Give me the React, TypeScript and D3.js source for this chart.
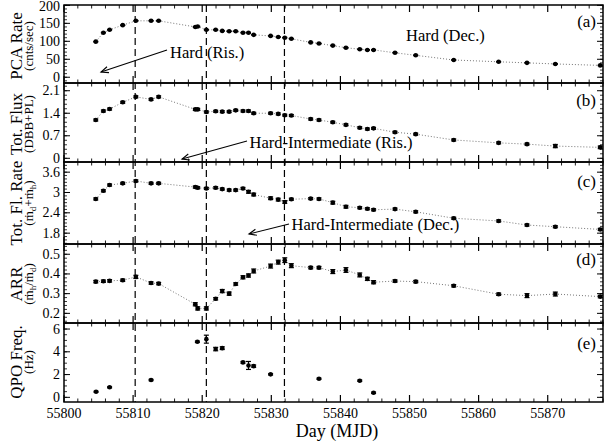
import React from "react";
import * as d3 from "d3";

const days = [55804.6, 55805.7, 55806.6, 55808.5, 55810.4, 55812.6, 55813.7, 55819.0, 55819.35, 55820.6, 55821.95, 55822.9, 55823.9, 55824.85, 55825.9, 55826.7, 55827.45, 55829.9, 55831.0, 55831.95, 55832.9, 55835.7, 55836.9, 55838.9, 55840.8, 55842.8, 55843.9, 55844.8, 55847.9, 55850.9, 55856.4, 55862.9, 55867.0, 55871.1, 55877.6];

const pcaRate = [99, 124, 132, 145, 157, 157, 157, 140, 141, 132, 132, 129, 128, 128, 124, 124, 118, 115, 112, 110, 107, 97, 94, 88, 82, 78, 76, 76, 68, 61, 48, 43, 40, 37, 33];
const pcaErr = [1, 1, 1, 1, 1, 1, 1, 1, 1, 1, 1, 1, 1, 1, 1, 1, 1, 1, 1, 1, 1, 1, 1, 1, 1, 1, 1, 1, 1, 1, 1, 1, 1, 1, 1];

const totFlux = [1.19, 1.47, 1.53, 1.74, 1.91, 1.83, 1.91, 1.52, 1.52, 1.44, 1.46, 1.45, 1.45, 1.49, 1.47, 1.47, 1.40, 1.40, 1.38, 1.34, 1.33, 1.22, 1.19, 1.12, 1.04, 0.95, 0.91, 0.93, 0.81, 0.75, 0.57, 0.48, 0.44, 0.38, 0.34];
const fluxErr = [0.03, 0.03, 0.03, 0.03, 0.03, 0.03, 0.03, 0.03, 0.03, 0.03, 0.03, 0.03, 0.03, 0.03, 0.03, 0.03, 0.03, 0.03, 0.03, 0.03, 0.03, 0.03, 0.03, 0.03, 0.03, 0.03, 0.03, 0.03, 0.03, 0.03, 0.03, 0.03, 0.03, 0.05, 0.04];

const totRate = [2.81, 3.05, 3.22, 3.27, 3.34, 3.27, 3.27, 3.16, 3.14, 3.12, 3.14, 3.10, 3.07, 3.07, 3.12, 3.02, 2.94, 2.83, 2.79, 2.72, 2.80, 2.82, 2.81, 2.70, 2.58, 2.55, 2.52, 2.49, 2.51, 2.43, 2.24, 2.16, 2.04, 1.99, 1.91];
const rateErr = [0.03, 0.03, 0.03, 0.03, 0.03, 0.03, 0.03, 0.03, 0.03, 0.03, 0.03, 0.03, 0.03, 0.03, 0.03, 0.04, 0.04, 0.04, 0.04, 0.04, 0.03, 0.03, 0.03, 0.04, 0.04, 0.03, 0.03, 0.03, 0.03, 0.03, 0.03, 0.03, 0.03, 0.03, 0.03];

const arr = [0.361, 0.363, 0.365, 0.368, 0.385, 0.354, 0.351, 0.246, 0.225, 0.225, 0.274, 0.313, 0.300, 0.349, 0.383, 0.392, 0.415, 0.440, 0.460, 0.470, 0.442, 0.432, 0.432, 0.412, 0.420, 0.395, 0.375, 0.358, 0.364, 0.361, 0.340, 0.297, 0.290, 0.298, 0.285];
const arrErr = [0.006, 0.006, 0.006, 0.006, 0.008, 0.006, 0.006, 0.008, 0.008, 0.008, 0.006, 0.008, 0.008, 0.006, 0.008, 0.008, 0.01, 0.01, 0.01, 0.012, 0.01, 0.006, 0.006, 0.01, 0.012, 0.01, 0.008, 0.008, 0.006, 0.006, 0.006, 0.006, 0.01, 0.01, 0.006];

const qpoDays = [55804.64, 55806.6, 55812.6, 55819.3, 55820.6, 55821.95, 55822.9, 55825.9, 55826.7, 55827.45, 55829.9, 55836.9, 55842.8, 55844.8];
const qpoFreq = [0.49, 0.88, 1.52, 4.88, 5.11, 4.24, 4.32, 3.07, 2.8, 2.74, 2.02, 1.63, 1.46, 0.40];
const qpoErr = [0.05, 0.05, 0.06, 0.06, 0.35, 0.15, 0.12, 0.08, 0.35, 0.1, 0.06, 0.06, 0.06, 0.06];

const transitions = [55810.3, 55820.6, 55831.9];
const xTicks = [55800, 55810, 55820, 55830, 55840, 55850, 55860, 55870];

const FONT = "'Liberation Serif', 'Times New Roman', 'DejaVu Serif', serif";

type PanelDef = {
  key: string;
  top: number;
  bottom: number;
  domain: [number, number];
  ticks: number[];
  tickFmt: (v: number) => string;
  minorStep: number;
  xs: number[];
  ys: number[];
  errs: number[];
  line: boolean;
  label: string;
  labelY: number;
};

const xScale = d3.scaleLinear().domain([55800, 55878]).range([64, 603]);

const panels: PanelDef[] = [
  { key: "a", top: 5, bottom: 83, domain: [-16, 201], ticks: [0, 50, 100, 150, 200], tickFmt: (v) => String(v), minorStep: 10, xs: days, ys: pcaRate, errs: pcaErr, line: true, label: "(a)", labelY: 27 },
  { key: "b", top: 83, bottom: 162, domain: [-0.115, 2.34], ticks: [0, 0.7, 1.4, 2.1], tickFmt: (v) => String(v), minorStep: 0.14, xs: days, ys: totFlux, errs: fluxErr, line: true, label: "(b)", labelY: 106 },
  { key: "c", top: 162, bottom: 244, domain: [1.48, 3.9], ticks: [1.8, 2.4, 3, 3.6], tickFmt: (v) => String(v), minorStep: 0.1, xs: days, ys: totRate, errs: rateErr, line: true, label: "(c)", labelY: 187 },
  { key: "d", top: 244, bottom: 323, domain: [0.151, 0.552], ticks: [0.2, 0.3, 0.4, 0.5], tickFmt: (v) => String(v), minorStep: 0.02, xs: days, ys: arr, errs: arrErr, line: true, label: "(d)", labelY: 265 },
  { key: "e", top: 323, bottom: 402, domain: [-0.41, 6.53], ticks: [0, 2, 4, 6], tickFmt: (v) => String(v), minorStep: 0.5, xs: qpoDays, ys: qpoFreq, errs: qpoErr, line: false, label: "(e)", labelY: 349 },
];

function Panel({ p }: { p: PanelDef }) {
  const y = d3.scaleLinear().domain(p.domain).range([p.bottom, p.top]);
  const x0 = xScale.range()[0];
  const x1 = xScale.range()[1];
  const minors: number[] = [];
  const start = Math.ceil(p.domain[0] / p.minorStep);
  for (let i = start; i * p.minorStep <= p.domain[1]; i++) minors.push(+(i * p.minorStep).toFixed(4));
  const xMinors: number[] = [];
  for (let d = 55800; d <= 55878; d += 2) xMinors.push(d);
  const lineGen = d3.line<number>().x((_, i) => xScale(p.xs[i])).y((v) => y(v));
  return (
    <g>
      {p.line && (
        <path d={lineGen(p.ys) || ""} fill="none" stroke="#777" strokeWidth={1} strokeDasharray="1,2" />
      )}
      {p.ys.map((v, i) => {
        const cx = xScale(p.xs[i]);
        const yl = y(v - p.errs[i]);
        const yh = y(v + p.errs[i]);
        return (
          <g key={i}>
            <line x1={cx} x2={cx} y1={yl} y2={yh} stroke="#000" strokeWidth={1.2} />
            <line x1={cx - 2.5} x2={cx + 2.5} y1={yl} y2={yl} stroke="#000" strokeWidth={1.2} />
            <line x1={cx - 2.5} x2={cx + 2.5} y1={yh} y2={yh} stroke="#000" strokeWidth={1.2} />
            <circle cx={cx} cy={y(v)} r={2.3} fill="#000" />
          </g>
        );
      })}
      {minors.map((m, i) => (
        <g key={"ym" + i}>
          <line x1={x0} x2={x0 + 3} y1={y(m)} y2={y(m)} stroke="#000" strokeWidth={0.8} />
          <line x1={x1} x2={x1 - 3} y1={y(m)} y2={y(m)} stroke="#000" strokeWidth={0.8} />
        </g>
      ))}
      {p.ticks.map((t, i) => (
        <g key={"yt" + i}>
          <line x1={x0} x2={x0 + 6} y1={y(t)} y2={y(t)} stroke="#000" strokeWidth={1} />
          <line x1={x1} x2={x1 - 6} y1={y(t)} y2={y(t)} stroke="#000" strokeWidth={1} />
          <text x={60} y={Math.max(y(t) + 4.5, 11)} textAnchor="end" fontSize={14} fontFamily={FONT}>
            {p.tickFmt(t)}
          </text>
        </g>
      ))}
      {xMinors.map((d, i) => {
        const major = d % 10 === 0;
        const len = major ? 7 : 3.5;
        return (
          <g key={"xm" + i}>
            <line x1={xScale(d)} x2={xScale(d)} y1={p.bottom} y2={p.bottom - len} stroke="#000" strokeWidth={major ? 1.2 : 0.9} />
            <line x1={xScale(d)} x2={xScale(d)} y1={p.top} y2={p.top + len} stroke="#000" strokeWidth={major ? 1.2 : 0.9} />
          </g>
        );
      })}
      <rect x={x0} y={p.top} width={x1 - x0} height={p.bottom - p.top} fill="none" stroke="#000" strokeWidth={1.5} />
      <text x={596} y={p.labelY} textAnchor="end" fontSize={17} fontFamily={FONT}>
        {p.label}
      </text>
    </g>
  );
}

function Arrow({ x1, y1, x2, y2 }: { x1: number; y1: number; x2: number; y2: number }) {
  const ang = Math.atan2(y2 - y1, x2 - x1);
  const L = 8;
  const a = 0.4;
  const p1 = [x2 - L * Math.cos(ang - a), y2 - L * Math.sin(ang - a)];
  const p2 = [x2 - L * Math.cos(ang + a), y2 - L * Math.sin(ang + a)];
  return (
    <g stroke="#000" strokeWidth={1.1} fill="none">
      <line x1={x1} y1={y1} x2={x2} y2={y2} />
      <polyline points={`${p1[0]},${p1[1]} ${x2},${y2} ${p2[0]},${p2[1]}`} />
    </g>
  );
}

function YLabel({ cy, main, sub }: { cy: number; main: React.ReactNode; sub: React.ReactNode }) {
  return (
    <g fontFamily={FONT}>
      <text transform={`translate(22,${cy}) rotate(-90)`} textAnchor="middle" fontSize={17}>
        {main}
      </text>
      <text transform={`translate(33,${cy}) rotate(-90)`} textAnchor="middle" fontSize={13}>
        {sub}
      </text>
    </g>
  );
}

export default function App() {
  return (
    <svg width={608} height={447} style={{ position: "absolute", left: 0, top: 0, background: "#fff" }}>
      <rect width={608} height={447} fill="#fff" />
      {panels.map((p) => (
        <Panel key={p.key} p={p} />
      ))}
      {transitions.map((t, i) => (
        <line key={"tr" + i} x1={xScale(t)} x2={xScale(t)} y1={5} y2={402} stroke="#000" strokeWidth={1.2} strokeDasharray="7,4" />
      ))}
      {xTicks.map((t, i) => (
        <text key={"xl" + i} x={xScale(t)} y={418} textAnchor="middle" fontSize={14} fontFamily={FONT}>
          {t}
        </text>
      ))}
      <text x={337} y={437} textAnchor="middle" fontSize={18} fontFamily={FONT}>
        Day (MJD)
      </text>

      <YLabel cy={46} main="PCA Rate" sub="(cnts/sec)" />
      <YLabel cy={124} main="Tot. Flux" sub="(DBB+PL)" />
      <YLabel
        cy={203}
        main="Tot. Fl. Rate"
        sub={
          <>
            <tspan>(ṁ</tspan>
            <tspan fontSize={9} dy={3}>d</tspan>
            <tspan dy={-3}>+ṁ</tspan>
            <tspan fontSize={9} dy={3}>h</tspan>
            <tspan dy={-3}>)</tspan>
          </>
        }
      />
      <YLabel
        cy={284}
        main="ARR"
        sub={
          <>
            <tspan>(ṁ</tspan>
            <tspan fontSize={9} dy={3}>h</tspan>
            <tspan dy={-3}>/ṁ</tspan>
            <tspan fontSize={9} dy={3}>d</tspan>
            <tspan dy={-3}>)</tspan>
          </>
        }
      />
      <YLabel cy={362} main="QPO Freq." sub="(Hz)" />

      <g fontFamily={FONT} fontSize={16.5}>
        <text x={170} y={58}>Hard (Ris.)</text>
        <text x={406} y={41}>Hard (Dec.)</text>
        <text x={249.5} y={148}>Hard-Intermediate (Ris.)</text>
        <text x={291.5} y={230}>Hard-Intermediate (Dec.)</text>
      </g>
      <Arrow x1={167} y1={50} x2={101} y2={72} />
      <Arrow x1={247} y1={141} x2={182} y2={159} />
      <Arrow x1={289} y1={224} x2={249} y2={234} />
    </svg>
  );
}
